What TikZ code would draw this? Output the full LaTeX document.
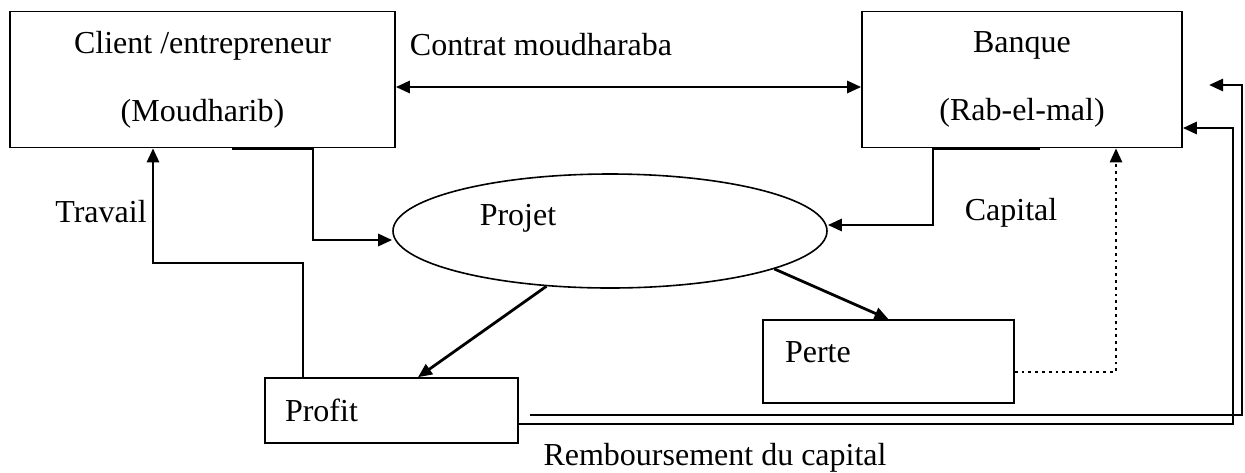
\documentclass[tikz,border=0pt]{standalone}
\usepackage{fontspec}
\setmainfont{Liberation Serif}
\usetikzlibrary{arrows.meta,shapes.geometric}

\tikzset{
  box/.style={draw, line width=0.8pt, inner sep=0pt},
  arr/.style={line width=1.4pt, -{Triangle[length=7pt,width=6pt]}},
  biarr/.style={line width=1.4pt, {Triangle[length=7pt,width=6pt]}-{Triangle[length=7pt,width=6pt]}},
  txt/.style={inner sep=0pt, text height=11pt, text depth=3.5pt}
}

\begin{document}
\begin{tikzpicture}[x=0.5pt, y=-0.5pt, font=\fontsize{16}{19}\selectfont]
    \useasboundingbox (0,0) rectangle (1245,472);

    % the two parties
    \node[box, minimum width=192.5pt, minimum height=68pt, align=center] (client) at (202.5,79.5) {Client /entrepreneur\\[15pt](Moudharib)};
    \node[box, minimum width=160pt, minimum height=68pt, align=center] (banque) at (1022,79.5) {Banque\\[15pt](Rab-el-mal)};

    % project and outcomes
    \node[box, ellipse, minimum width=217pt, minimum height=57pt] (projet) at (610,231) {};
    \node[txt] (projlbl) at (518,218) {Projet};
    \node[box, minimum width=126.5pt, minimum height=32.5pt, inner xsep=10pt, text width=106.5pt, align=left] (profit) at (391.5,410.5) {Profit};
    \node[box, minimum width=125.5pt, minimum height=41.5pt, inner xsep=11pt, text width=103.5pt, align=left, text depth=9.5pt] (perte) at (888.5,361.5) {Perte};

    % labels
    \node[txt] (contrat) at (541,48) {Contrat moudharaba};
    \node[txt] (travail) at (101,215) {Travail};
    \node[txt] (capital) at (1011,213) {Capital};
    \node[txt] (rembours) at (715,458) {Remboursement du capital};

    % flows
    \draw[biarr] ([yshift=-3.75pt]client.east) -- ([yshift=-3.75pt]banque.west);
    \draw[arr] ([xshift=14.75pt]client.south) -- ([xshift=55.25pt]client.south) |- ([yshift=-4.5pt]projet.west);
    \draw[arr] ([xshift=9pt]banque.south) -- ([xshift=-44.5pt]banque.south) |- ([yshift=3pt]projet.east);
    \coordinate (travbend) at (153,263);
    \draw[arr] ([xshift=-44.25pt]profit.north) |- (travbend) -- ([xshift=-24.75pt]client.south);
    \draw[arr] (projet.-139) -- ([xshift=13.25pt]profit.north);
    \draw[arr] (projet.-13) -- (perte.north);
    \draw[arr, dotted, line width=1.2pt] ([yshift=-5.25pt]perte.east) -| ([xshift=47pt]banque.south);

    % repayment
    \coordinate (rembstart) at (530,415);
    \coordinate (rembend) at (1209,85);
    \draw[arr] (rembstart) -- (1242,415) |- (rembend);
    \draw[arr] ([yshift=-6.75pt]profit.east) -- (1233,424) |- ([yshift=-24.25pt]banque.east);
\end{tikzpicture}
\end{document}
